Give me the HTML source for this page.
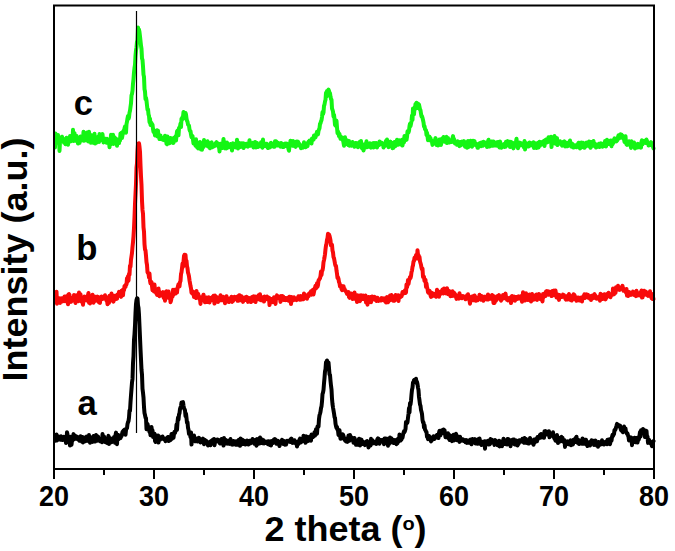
<!DOCTYPE html>
<html><head><meta charset="utf-8"><style>
html,body{margin:0;padding:0;background:#fff;}
body{width:675px;height:551px;overflow:hidden;}
svg{display:block;}
text{font-family:"Liberation Sans",sans-serif;font-weight:bold;fill:#000;}
</style></head><body>
<svg width="675" height="551" viewBox="0 0 675 551">
<rect x="0" y="0" width="675" height="551" fill="#fff"/>
<g fill="none" stroke-linejoin="round" stroke-linecap="round" stroke-width="4">
<polyline stroke="#14f514" points="55,147.4 55.5,133.6 56,142.8 56.5,139.8 57,140.0 57.5,140.6 58,135.0 58.5,140.3 59,138.3 59.5,150.9 60,141.5 60.5,139.5 61,139.5 61.5,138.1 62,136.7 62.5,138.6 63,141.1 63.5,139.0 64,142.7 64.5,139.3 65,139.9 65.5,144.3 66,141.1 66.5,137.7 67,138.5 67.5,140.6 68,144.8 68.5,138.2 69,138.3 69.5,141.8 70,136.1 70.5,137.8 71,141.2 71.5,140.2 72,138.7 72.5,140.2 73,129.8 73.5,141.0 74,135.2 74.5,133.2 75,139.1 75.5,140.6 76,137.5 76.5,135.9 77,139.3 77.5,139.3 78,143.6 78.5,141.8 79,140.3 79.5,142.9 80,138.8 80.5,136.5 81,140.6 81.5,140.4 82,138.1 82.5,136.5 83,139.6 83.5,131.8 84,140.8 84.5,140.1 85,133.8 85.5,138.5 86,135.5 86.5,140.5 87,132.6 87.5,135.8 88,140.3 88.5,141.4 89,131.8 89.5,136.4 90,138.8 90.5,136.3 91,142.8 91.5,135.3 92,139.8 92.5,135.9 93,142.7 93.5,138.5 94,137.5 94.5,133.8 95,143.5 95.5,141.1 96,141.4 96.5,142.7 97,140.6 97.5,137.7 98,137.0 98.5,136.5 99,142.1 99.5,134.0 100,136.2 100.5,137.1 101,138.8 101.5,140.0 102,135.2 102.5,134.1 103,139.0 103.5,142.5 104,141.4 104.5,140.0 105,138.7 105.5,140.6 106,139.5 106.5,142.8 107,138.7 107.5,141.4 108,140.6 108.5,142.2 109,141.2 109.5,147.2 110,144.3 110.5,144.3 111,134.8 111.5,139.5 112,139.0 112.5,142.1 113,134.7 113.5,143.9 114,143.6 114.5,137.2 115,138.0 115.5,138.4 116,140.6 116.5,142.2 117,145.8 117.5,139.7 118,141.9 118.5,139.6 119,143.1 119.5,139.6 120,140.5 120.5,133.4 121,135.0 121.5,132.7 122,138.0 122.5,135.1 123,131.9 123.5,130.8 124,132.3 124.5,128.3 125,126.6 125.5,129.0 126,132.7 126.5,124.2 127,121.7 127.5,118.3 128,116.0 128.5,118.8 129,117.4 129.5,112.7 130,110.7 130.5,106.9 131,103.4 131.5,95.4 132,93.9 132.5,90.8 133,83.6 133.5,79.1 134,72.5 134.5,67.9 135,64.9 135.5,55.7 136,50.4 136.5,47.2 137,41.8 137.5,40.2 138,27.5 138.5,33.2 139,29.5 139.5,32.2 140,36.5 140.5,41.0 141,45.6 141.5,48.9 142,58.5 142.5,59.8 143,66.3 143.5,74.6 144,76.9 144.5,89.2 145,91.5 145.5,99.1 146,97.8 146.5,100.7 147,105.4 147.5,109.8 148,109.3 148.5,114.3 149,115.9 149.5,122.2 150,118.7 150.5,124.9 151,122.4 151.5,123.1 152,124.9 152.5,124.7 153,128.9 153.5,131.9 154,130.5 154.5,132.3 155,135.5 155.5,132.9 156,133.4 156.5,132.9 157,130.2 157.5,136.4 158,130.7 158.5,136.9 159,135.7 159.5,139.1 160,136.8 160.5,135.6 161,139.1 161.5,137.4 162,138.7 162.5,139.6 163,139.4 163.5,139.6 164,138.4 164.5,140.2 165,135.7 165.5,140.6 166,138.2 166.5,143.8 167,144.2 167.5,136.5 168,141.7 168.5,141.2 169,139.3 169.5,143.3 170,141.0 170.5,137.9 171,141.5 171.5,141.6 172,142.1 172.5,138.8 173,143.0 173.5,142.9 174,137.8 174.5,138.2 175,138.6 175.5,136.3 176,140.5 176.5,135.6 177,131.4 177.5,130.7 178,131.1 178.5,135.3 179,128.1 179.5,127.3 180,126.5 180.5,123.5 181,127.1 181.5,118.7 182,120.0 182.5,117.1 183,116.9 183.5,111.9 184,118.3 184.5,113.9 185,114.6 185.5,113.0 186,114.4 186.5,118.5 187,120.8 187.5,121.7 188,124.5 188.5,125.2 189,125.7 189.5,129.6 190,131.0 190.5,131.1 191,134.6 191.5,137.2 192,136.1 192.5,136.0 193,139.7 193.5,143.6 194,139.9 194.5,141.2 195,141.9 195.5,145.7 196,139.3 196.5,144.8 197,147.1 197.5,142.9 198,148.4 198.5,146.4 199,144.0 199.5,145.8 200,141.9 200.5,144.2 201,149.6 201.5,143.6 202,149.7 202.5,145.3 203,147.5 203.5,145.3 204,140.1 204.5,143.8 205,145.5 205.5,142.5 206,142.1 206.5,145.8 207,143.6 207.5,141.3 208,143.5 208.5,146.8 209,143.8 209.5,146.9 210,148.3 210.5,145.1 211,142.7 211.5,142.4 212,145.2 212.5,147.2 213,145.8 213.5,146.5 214,144.5 214.5,146.2 215,144.6 215.5,144.9 216,142.8 216.5,142.2 217,144.6 217.5,143.2 218,143.5 218.5,146.9 219,145.1 219.5,151.4 220,147.1 220.5,143.8 221,146.9 221.5,146.1 222,144.0 222.5,147.9 223,143.9 223.5,138.9 224,147.0 224.5,143.9 225,148.4 225.5,143.9 226,142.7 226.5,148.4 227,142.6 227.5,145.1 228,147.6 228.5,144.8 229,144.5 229.5,145.2 230,147.0 230.5,143.9 231,147.0 231.5,147.0 232,150.5 232.5,144.7 233,143.3 233.5,146.7 234,144.3 234.5,145.7 235,145.3 235.5,147.4 236,143.6 236.5,144.8 237,139.8 237.5,143.3 238,148.5 238.5,144.0 239,144.1 239.5,143.2 240,147.0 240.5,146.2 241,143.3 241.5,146.8 242,145.6 242.5,146.3 243,143.2 243.5,148.1 244,145.5 244.5,144.5 245,143.8 245.5,144.2 246,146.3 246.5,143.8 247,146.3 247.5,145.2 248,146.7 248.5,145.7 249,143.9 249.5,140.2 250,144.7 250.5,145.7 251,144.5 251.5,145.3 252,143.4 252.5,143.8 253,142.8 253.5,147.6 254,145.3 254.5,143.9 255,142.0 255.5,144.2 256,147.4 256.5,145.3 257,142.9 257.5,147.1 258,147.0 258.5,145.9 259,145.5 259.5,146.2 260,145.0 260.5,145.5 261,142.3 261.5,146.8 262,144.1 262.5,147.7 263,139.6 263.5,145.2 264,146.0 264.5,143.5 265,145.3 265.5,146.0 266,145.8 266.5,143.8 267,144.8 267.5,147.3 268,148.0 268.5,145.6 269,145.5 269.5,145.7 270,147.4 270.5,143.3 271,142.9 271.5,145.9 272,143.6 272.5,144.6 273,145.9 273.5,146.6 274,143.2 274.5,146.8 275,141.3 275.5,145.7 276,141.3 276.5,141.7 277,145.6 277.5,143.5 278,142.9 278.5,143.7 279,145.5 279.5,144.4 280,144.4 280.5,146.6 281,143.1 281.5,143.7 282,143.6 282.5,147.0 283,146.5 283.5,147.0 284,144.2 284.5,143.9 285,146.0 285.5,143.6 286,146.2 286.5,146.2 287,143.6 287.5,145.1 288,145.2 288.5,149.1 289,150.8 289.5,145.4 290,145.6 290.5,140.8 291,145.6 291.5,144.8 292,142.3 292.5,145.8 293,141.0 293.5,143.8 294,144.7 294.5,142.1 295,146.4 295.5,146.8 296,141.8 296.5,141.6 297,145.5 297.5,144.0 298,141.6 298.5,143.4 299,143.9 299.5,144.0 300,146.1 300.5,145.3 301,148.2 301.5,147.5 302,146.3 302.5,147.2 303,147.7 303.5,146.4 304,142.3 304.5,146.2 305,144.4 305.5,147.2 306,143.8 306.5,144.4 307,143.8 307.5,146.2 308,142.9 308.5,141.7 309,142.5 309.5,140.6 310,141.3 310.5,140.5 311,140.6 311.5,143.5 312,138.5 312.5,139.1 313,138.3 313.5,139.7 314,135.6 314.5,136.1 315,136.8 315.5,137.3 316,135.3 316.5,133.5 317,131.9 317.5,133.6 318,134.3 318.5,130.9 319,129.3 319.5,128.3 320,123.9 320.5,123.3 321,121.3 321.5,120.2 322,117.0 322.5,112.1 323,114.1 323.5,112.5 324,105.9 324.5,104.5 325,101.5 325.5,99.8 326,92.8 326.5,96.8 327,90.9 327.5,93.2 328,90.3 328.5,89.6 329,91.0 329.5,94.7 330,93.2 330.5,96.7 331,99.2 331.5,99.6 332,108.5 332.5,109.9 333,111.5 333.5,116.5 334,114.8 334.5,118.9 335,124.8 335.5,125.5 336,121.1 336.5,120.9 337,127.3 337.5,133.1 338,131.5 338.5,133.3 339,136.1 339.5,134.0 340,137.0 340.5,138.8 341,138.6 341.5,138.9 342,137.3 342.5,140.0 343,138.7 343.5,142.7 344,145.8 344.5,139.7 345,137.2 345.5,141.0 346,142.7 346.5,144.1 347,144.2 347.5,140.6 348,140.8 348.5,145.3 349,141.0 349.5,145.8 350,143.5 350.5,145.6 351,145.6 351.5,145.7 352,145.6 352.5,141.9 353,144.4 353.5,143.9 354,144.6 354.5,146.7 355,143.9 355.5,143.1 356,143.1 356.5,144.0 357,146.2 357.5,143.2 358,147.2 358.5,145.5 359,144.4 359.5,142.1 360,145.1 360.5,145.9 361,141.0 361.5,147.1 362,148.2 362.5,145.8 363,146.4 363.5,150.5 364,148.4 364.5,144.3 365,146.2 365.5,145.9 366,145.9 366.5,141.3 367,147.3 367.5,144.2 368,145.6 368.5,144.9 369,146.8 369.5,144.5 370,143.4 370.5,146.0 371,147.7 371.5,144.1 372,147.3 372.5,144.9 373,143.3 373.5,147.5 374,143.1 374.5,147.0 375,144.2 375.5,146.3 376,143.0 376.5,143.8 377,147.5 377.5,145.6 378,145.0 378.5,143.7 379,145.2 379.5,141.4 380,141.9 380.5,143.8 381,142.5 381.5,142.8 382,144.1 382.5,144.0 383,143.8 383.5,147.5 384,146.0 384.5,146.3 385,143.7 385.5,142.7 386,140.8 386.5,143.0 387,139.6 387.5,142.7 388,145.5 388.5,147.2 389,145.9 389.5,142.0 390,144.4 390.5,141.6 391,144.6 391.5,142.8 392,144.8 392.5,148.2 393,145.0 393.5,147.7 394,143.3 394.5,142.2 395,145.4 395.5,146.0 396,141.4 396.5,142.7 397,139.8 397.5,142.4 398,144.8 398.5,143.1 399,142.1 399.5,140.4 400,143.7 400.5,144.4 401,143.8 401.5,142.9 402,139.7 402.5,145.5 403,141.6 403.5,141.1 404,142.3 404.5,136.0 405,139.5 405.5,138.6 406,138.8 406.5,139.8 407,137.0 407.5,131.3 408,132.9 408.5,132.5 409,130.8 409.5,126.2 410,123.7 410.5,126.2 411,123.8 411.5,121.0 412,115.4 412.5,120.0 413,108.4 413.5,111.3 414,114.3 414.5,108.2 415,107.7 415.5,104.0 416,108.4 416.5,102.8 417,105.8 417.5,105.7 418,103.8 418.5,108.3 419,104.6 419.5,107.0 420,109.5 420.5,110.2 421,113.7 421.5,116.5 422,116.2 422.5,117.9 423,120.0 423.5,122.3 424,126.5 424.5,126.2 425,129.2 425.5,129.9 426,130.1 426.5,135.0 427,132.7 427.5,136.1 428,140.2 428.5,136.2 429,139.1 429.5,136.8 430,139.6 430.5,138.1 431,140.8 431.5,140.6 432,142.1 432.5,144.9 433,142.3 433.5,143.1 434,141.6 434.5,141.2 435,140.1 435.5,138.1 436,141.9 436.5,145.0 437,142.9 437.5,141.0 438,145.4 438.5,141.3 439,140.9 439.5,139.5 440,139.7 440.5,140.8 441,144.9 441.5,140.3 442,138.5 442.5,139.3 443,140.0 443.5,137.0 444,140.6 444.5,141.7 445,140.9 445.5,141.4 446,137.6 446.5,136.9 447,143.0 447.5,142.9 448,138.0 448.5,141.6 449,141.3 449.5,142.4 450,141.8 450.5,140.5 451,142.0 451.5,142.0 452,141.7 452.5,138.3 453,136.1 453.5,140.5 454,138.9 454.5,142.6 455,143.5 455.5,142.7 456,141.5 456.5,142.5 457,144.8 457.5,141.2 458,144.6 458.5,144.4 459,143.6 459.5,146.1 460,142.0 460.5,145.5 461,141.9 461.5,142.3 462,141.7 462.5,144.6 463,141.7 463.5,143.6 464,141.1 464.5,145.2 465,146.6 465.5,143.4 466,146.3 466.5,144.4 467,147.8 467.5,144.0 468,140.9 468.5,147.0 469,143.9 469.5,142.1 470,142.8 470.5,140.8 471,143.6 471.5,141.7 472,146.7 472.5,145.1 473,140.7 473.5,141.3 474,143.4 474.5,141.1 475,144.8 475.5,145.1 476,143.6 476.5,144.0 477,146.0 477.5,147.7 478,147.8 478.5,144.8 479,146.4 479.5,143.2 480,145.4 480.5,142.8 481,146.2 481.5,142.4 482,142.9 482.5,144.7 483,145.7 483.5,141.7 484,143.3 484.5,144.5 485,144.7 485.5,142.6 486,144.4 486.5,143.7 487,147.0 487.5,145.3 488,141.6 488.5,139.8 489,144.3 489.5,146.5 490,144.5 490.5,145.9 491,143.2 491.5,141.5 492,145.7 492.5,144.5 493,145.6 493.5,141.5 494,144.6 494.5,142.9 495,145.6 495.5,142.7 496,142.5 496.5,142.3 497,145.8 497.5,143.4 498,142.1 498.5,141.9 499,142.3 499.5,147.6 500,141.5 500.5,143.7 501,146.7 501.5,147.7 502,145.0 502.5,146.5 503,146.1 503.5,146.2 504,144.0 504.5,147.0 505,144.1 505.5,146.7 506,141.7 506.5,145.8 507,141.6 507.5,141.1 508,145.0 508.5,142.3 509,144.7 509.5,141.8 510,147.1 510.5,144.0 511,141.9 511.5,144.5 512,145.9 512.5,142.7 513,145.3 513.5,148.4 514,146.2 514.5,144.6 515,143.6 515.5,145.9 516,141.8 516.5,138.8 517,143.5 517.5,142.7 518,148.3 518.5,145.2 519,143.0 519.5,142.6 520,145.6 520.5,142.9 521,143.2 521.5,144.1 522,144.3 522.5,144.3 523,144.3 523.5,146.6 524,147.5 524.5,141.1 525,149.5 525.5,144.8 526,147.1 526.5,143.3 527,145.5 527.5,145.3 528,145.1 528.5,146.5 529,145.9 529.5,142.6 530,144.1 530.5,145.5 531,145.2 531.5,143.2 532,143.4 532.5,143.9 533,142.4 533.5,142.3 534,148.0 534.5,144.2 535,145.0 535.5,143.3 536,147.2 536.5,148.0 537,144.0 537.5,145.4 538,142.7 538.5,147.4 539,145.4 539.5,141.7 540,145.7 540.5,143.9 541,144.0 541.5,144.0 542,142.1 542.5,142.3 543,144.4 543.5,142.8 544,140.7 544.5,146.1 545,141.3 545.5,140.2 546,139.5 546.5,141.9 547,142.3 547.5,140.8 548,141.9 548.5,137.3 549,139.5 549.5,139.3 550,140.4 550.5,141.5 551,136.8 551.5,147.1 552,139.5 552.5,142.0 553,143.0 553.5,143.2 554,142.1 554.5,136.1 555,139.9 555.5,143.7 556,140.7 556.5,140.5 557,138.1 557.5,145.1 558,143.8 558.5,141.2 559,142.8 559.5,143.1 560,141.3 560.5,143.0 561,144.0 561.5,144.4 562,145.6 562.5,143.1 563,142.2 563.5,144.0 564,142.3 564.5,141.4 565,146.4 565.5,143.7 566,145.0 566.5,146.2 567,142.8 567.5,146.2 568,145.8 568.5,144.7 569,145.6 569.5,143.3 570,140.5 570.5,144.3 571,143.2 571.5,146.7 572,145.5 572.5,143.9 573,144.9 573.5,147.5 574,147.2 574.5,146.0 575,146.4 575.5,145.3 576,145.8 576.5,147.3 577,145.9 577.5,146.7 578,143.9 578.5,142.8 579,142.7 579.5,145.1 580,148.4 580.5,148.1 581,143.7 581.5,142.5 582,147.0 582.5,146.4 583,142.7 583.5,147.4 584,145.6 584.5,147.8 585,145.8 585.5,146.7 586,145.3 586.5,142.6 587,143.8 587.5,142.8 588,145.7 588.5,142.3 589,141.5 589.5,145.9 590,147.0 590.5,147.6 591,147.0 591.5,142.1 592,143.7 592.5,144.1 593,145.2 593.5,141.1 594,145.4 594.5,146.0 595,143.6 595.5,145.6 596,147.5 596.5,145.1 597,146.9 597.5,146.7 598,145.4 598.5,145.2 599,143.7 599.5,146.9 600,143.7 600.5,143.4 601,146.3 601.5,143.5 602,145.7 602.5,146.7 603,144.6 603.5,144.5 604,146.0 604.5,145.6 605,141.1 605.5,141.5 606,146.5 606.5,144.6 607,139.7 607.5,141.0 608,143.5 608.5,141.3 609,144.0 609.5,143.0 610,143.7 610.5,140.5 611,143.8 611.5,146.2 612,140.6 612.5,144.3 613,143.4 613.5,142.5 614,140.8 614.5,138.4 615,138.6 615.5,141.4 616,141.3 616.5,141.4 617,140.5 617.5,140.0 618,137.0 618.5,135.2 619,137.7 619.5,138.1 620,137.3 620.5,134.2 621,136.3 621.5,134.6 622,137.8 622.5,135.7 623,137.6 623.5,138.9 624,138.9 624.5,141.9 625,137.7 625.5,136.2 626,142.9 626.5,144.3 627,144.8 627.5,143.0 628,143.9 628.5,143.5 629,141.2 629.5,142.9 630,145.2 630.5,143.1 631,147.9 631.5,141.3 632,143.5 632.5,146.6 633,143.5 633.5,142.7 634,142.5 634.5,144.0 635,148.6 635.5,146.6 636,146.9 636.5,144.9 637,147.5 637.5,146.0 638,143.9 638.5,144.6 639,145.7 639.5,147.3 640,144.6 640.5,145.3 641,147.6 641.5,141.6 642,140.3 642.5,144.2 643,142.9 643.5,141.7 644,142.2 644.5,140.8 645,142.3 645.5,140.6 646,143.0 646.5,139.6 647,140.9 647.5,143.3 648,142.8 648.5,145.5 649,144.4 649.5,143.5 650,145.1 650.5,143.9 651,142.1 651.5,143.3 652,144.4 652.5,145.4 653,146.7 653.5,148.4"/>
<polyline stroke="#f80a0a" points="55,299.6 55.5,297.3 56,297.5 56.5,291.7 57,303.7 57.5,302.0 58,298.1 58.5,301.5 59,300.4 59.5,298.4 60,302.9 60.5,299.5 61,299.6 61.5,298.3 62,301.6 62.5,299.8 63,301.2 63.5,297.7 64,299.4 64.5,296.5 65,301.2 65.5,299.4 66,299.7 66.5,299.8 67,295.9 67.5,300.8 68,304.3 68.5,294.3 69,294.1 69.5,294.8 70,301.2 70.5,299.3 71,301.9 71.5,300.9 72,299.4 72.5,299.4 73,297.9 73.5,300.4 74,294.9 74.5,296.8 75,298.7 75.5,303.0 76,296.2 76.5,295.3 77,296.6 77.5,300.5 78,297.1 78.5,301.2 79,292.6 79.5,300.7 80,300.6 80.5,294.3 81,298.6 81.5,301.6 82,298.7 82.5,301.1 83,304.7 83.5,299.2 84,297.7 84.5,296.5 85,300.3 85.5,298.2 86,298.3 86.5,298.5 87,300.5 87.5,296.2 88,295.2 88.5,293.0 89,302.7 89.5,299.8 90,303.5 90.5,299.3 91,297.1 91.5,299.8 92,298.0 92.5,294.8 93,295.7 93.5,302.7 94,299.3 94.5,299.6 95,297.9 95.5,296.9 96,300.8 96.5,298.3 97,296.7 97.5,298.5 98,296.9 98.5,299.9 99,302.4 99.5,297.4 100,302.9 100.5,297.4 101,299.2 101.5,296.5 102,298.1 102.5,299.0 103,298.1 103.5,297.6 104,297.8 104.5,297.3 105,295.3 105.5,298.3 106,299.7 106.5,300.7 107,299.9 107.5,304.3 108,298.9 108.5,297.1 109,302.9 109.5,295.7 110,300.7 110.5,296.0 111,299.3 111.5,293.6 112,300.5 112.5,297.7 113,295.5 113.5,301.7 114,299.4 114.5,297.7 115,295.8 115.5,297.5 116,297.0 116.5,298.9 117,298.7 117.5,294.6 118,294.4 118.5,294.1 119,291.9 119.5,293.6 120,294.6 120.5,296.0 121,296.8 121.5,290.8 122,293.2 122.5,290.0 123,295.3 123.5,289.6 124,290.3 124.5,286.2 125,285.7 125.5,287.0 126,284.3 126.5,284.4 127,278.2 127.5,281.8 128,276.3 128.5,280.7 129,273.8 129.5,274.6 130,265.7 130.5,266.6 131,259.6 131.5,256.4 132,252.9 132.5,246.9 133,242.2 133.5,236.3 134,228.0 134.5,217.1 135,204.0 135.5,194.2 136,184.0 136.5,167.7 137,163.1 137.5,151.1 138,144.1 138.5,143.4 139,143.3 139.5,146.9 140,151.9 140.5,165.1 141,176.5 141.5,185.2 142,200.8 142.5,209.9 143,213.7 143.5,227.2 144,231.7 144.5,244.1 145,249.5 145.5,250.5 146,255.7 146.5,262.1 147,264.9 147.5,272.1 148,273.1 148.5,273.3 149,277.5 149.5,273.6 150,280.6 150.5,283.3 151,282.1 151.5,282.1 152,286.1 152.5,290.2 153,287.1 153.5,284.9 154,291.4 154.5,284.6 155,290.7 155.5,288.9 156,293.0 156.5,289.6 157,294.9 157.5,293.0 158,288.8 158.5,288.6 159,292.5 159.5,296.2 160,293.6 160.5,293.5 161,292.8 161.5,295.1 162,294.5 162.5,294.6 163,292.1 163.5,297.3 164,298.1 164.5,292.5 165,300.7 165.5,297.3 166,294.6 166.5,291.3 167,296.8 167.5,296.5 168,294.0 168.5,291.5 169,298.0 169.5,294.4 170,294.8 170.5,302.2 171,300.6 171.5,297.8 172,294.5 172.5,296.5 173,289.8 173.5,294.7 174,292.5 174.5,290.9 175,289.7 175.5,293.6 176,292.0 176.5,291.5 177,292.4 177.5,288.1 178,286.4 178.5,284.2 179,285.8 179.5,286.3 180,282.1 180.5,281.0 181,274.1 181.5,272.3 182,268.2 182.5,263.6 183,266.8 183.5,261.6 184,255.9 184.5,254.7 185,256.4 185.5,254.9 186,261.3 186.5,260.8 187,266.2 187.5,268.3 188,272.7 188.5,274.1 189,276.4 189.5,280.3 190,283.2 190.5,286.0 191,288.4 191.5,292.9 192,292.5 192.5,291.3 193,294.2 193.5,291.9 194,297.1 194.5,295.9 195,292.5 195.5,297.4 196,298.0 196.5,291.1 197,295.5 197.5,296.4 198,293.6 198.5,295.6 199,296.1 199.5,299.3 200,299.0 200.5,303.9 201,297.7 201.5,300.9 202,298.7 202.5,299.1 203,296.2 203.5,294.7 204,297.1 204.5,300.4 205,302.2 205.5,300.4 206,300.2 206.5,297.4 207,302.1 207.5,301.7 208,298.0 208.5,299.1 209,297.4 209.5,302.5 210,300.4 210.5,299.3 211,300.2 211.5,300.2 212,298.5 212.5,296.9 213,296.9 213.5,295.9 214,300.3 214.5,303.6 215,295.6 215.5,299.1 216,299.7 216.5,297.0 217,299.7 217.5,297.4 218,302.1 218.5,298.4 219,299.6 219.5,300.5 220,298.0 220.5,295.3 221,297.7 221.5,300.3 222,298.7 222.5,299.3 223,296.8 223.5,299.3 224,300.6 224.5,299.4 225,303.2 225.5,299.1 226,297.5 226.5,296.2 227,301.5 227.5,298.9 228,300.8 228.5,299.7 229,302.0 229.5,301.4 230,298.3 230.5,299.6 231,301.2 231.5,296.7 232,301.9 232.5,301.4 233,301.0 233.5,298.7 234,299.6 234.5,296.7 235,298.7 235.5,297.3 236,298.4 236.5,297.3 237,298.9 237.5,300.8 238,296.3 238.5,300.8 239,295.4 239.5,295.2 240,299.1 240.5,299.3 241,300.1 241.5,296.2 242,299.3 242.5,299.7 243,301.9 243.5,299.4 244,300.5 244.5,297.5 245,298.7 245.5,298.0 246,300.0 246.5,296.8 247,297.0 247.5,299.6 248,301.9 248.5,299.3 249,299.2 249.5,298.0 250,300.7 250.5,299.8 251,302.0 251.5,299.4 252,297.0 252.5,297.6 253,296.7 253.5,296.3 254,301.0 254.5,300.2 255,296.5 255.5,302.1 256,299.3 256.5,297.0 257,299.4 257.5,298.6 258,297.3 258.5,295.2 259,298.9 259.5,299.5 260,294.2 260.5,300.1 261,300.2 261.5,298.2 262,299.2 262.5,298.5 263,297.4 263.5,298.4 264,301.6 264.5,296.5 265,299.6 265.5,299.5 266,297.8 266.5,298.3 267,296.5 267.5,297.5 268,299.1 268.5,299.8 269,297.6 269.5,305.0 270,298.5 270.5,300.0 271,299.4 271.5,299.1 272,302.2 272.5,298.8 273,302.0 273.5,301.4 274,297.2 274.5,300.9 275,297.7 275.5,303.9 276,298.1 276.5,297.1 277,295.4 277.5,296.6 278,297.9 278.5,297.2 279,296.8 279.5,297.9 280,298.8 280.5,301.9 281,296.1 281.5,298.1 282,297.2 282.5,296.1 283,296.4 283.5,297.0 284,300.1 284.5,298.5 285,297.9 285.5,300.1 286,299.5 286.5,298.7 287,299.9 287.5,297.7 288,300.5 288.5,300.1 289,298.4 289.5,296.7 290,301.5 290.5,298.7 291,304.0 291.5,297.1 292,299.9 292.5,297.6 293,299.0 293.5,300.1 294,297.2 294.5,298.5 295,298.9 295.5,298.7 296,299.4 296.5,300.1 297,299.6 297.5,298.5 298,297.5 298.5,296.2 299,297.1 299.5,297.5 300,299.7 300.5,297.8 301,296.1 301.5,299.6 302,297.0 302.5,297.1 303,298.0 303.5,299.1 304,293.5 304.5,295.5 305,297.7 305.5,296.5 306,295.3 306.5,295.7 307,298.8 307.5,295.0 308,296.7 308.5,296.3 309,293.5 309.5,294.8 310,292.8 310.5,292.4 311,291.3 311.5,294.8 312,292.2 312.5,291.4 313,289.7 313.5,294.4 314,291.8 314.5,289.5 315,287.9 315.5,285.7 316,288.3 316.5,287.4 317,283.2 317.5,286.8 318,284.9 318.5,280.5 319,279.9 319.5,278.8 320,278.3 320.5,276.0 321,271.4 321.5,275.1 322,270.8 322.5,270.3 323,267.7 323.5,262.2 324,260.1 324.5,257.5 325,254.2 325.5,249.2 326,245.4 326.5,243.7 327,239.7 327.5,238.0 328,233.7 328.5,236.6 329,234.4 329.5,235.8 330,237.9 330.5,240.4 331,245.6 331.5,245.1 332,244.9 332.5,250.6 333,252.3 333.5,257.1 334,258.1 334.5,260.8 335,263.7 335.5,265.9 336,266.0 336.5,270.4 337,273.8 337.5,278.1 338,277.3 338.5,278.9 339,282.1 339.5,283.3 340,286.4 340.5,285.6 341,285.5 341.5,288.9 342,290.1 342.5,287.2 343,289.0 343.5,286.2 344,289.2 344.5,288.8 345,290.5 345.5,290.6 346,291.8 346.5,292.4 347,294.0 347.5,293.9 348,292.9 348.5,292.0 349,297.0 349.5,297.8 350,294.7 350.5,297.0 351,293.5 351.5,293.6 352,296.0 352.5,299.0 353,294.2 353.5,294.4 354,298.8 354.5,292.4 355,297.3 355.5,297.3 356,296.4 356.5,297.3 357,302.0 357.5,295.3 358,296.9 358.5,297.2 359,296.6 359.5,295.7 360,301.2 360.5,298.9 361,295.3 361.5,297.1 362,299.0 362.5,299.0 363,295.6 363.5,298.2 364,299.0 364.5,299.3 365,299.4 365.5,295.5 366,302.3 366.5,299.5 367,302.6 367.5,304.6 368,299.0 368.5,297.0 369,300.7 369.5,298.7 370,298.2 370.5,297.2 371,302.2 371.5,298.3 372,296.5 372.5,298.2 373,296.9 373.5,299.3 374,298.2 374.5,296.9 375,299.8 375.5,297.5 376,299.9 376.5,300.9 377,298.1 377.5,297.8 378,299.5 378.5,300.9 379,299.3 379.5,299.6 380,299.3 380.5,299.9 381,300.5 381.5,298.1 382,298.6 382.5,299.6 383,298.4 383.5,299.8 384,300.5 384.5,299.5 385,298.4 385.5,298.0 386,302.6 386.5,300.9 387,297.1 387.5,297.4 388,302.2 388.5,301.4 389,298.7 389.5,300.5 390,295.6 390.5,298.3 391,299.7 391.5,295.1 392,297.2 392.5,300.1 393,300.6 393.5,297.3 394,298.7 394.5,300.8 395,297.0 395.5,295.0 396,297.2 396.5,296.5 397,299.5 397.5,297.2 398,295.3 398.5,301.0 399,295.5 399.5,297.1 400,297.2 400.5,297.2 401,295.8 401.5,296.3 402,294.8 402.5,292.0 403,293.8 403.5,293.3 404,292.7 404.5,292.5 405,290.3 405.5,293.0 406,292.4 406.5,284.5 407,287.3 407.5,284.7 408,279.9 408.5,284.0 409,280.6 409.5,279.3 410,277.0 410.5,278.1 411,276.1 411.5,272.1 412,270.6 412.5,266.9 413,265.3 413.5,261.6 414,261.0 414.5,257.7 415,257.9 415.5,257.2 416,255.1 416.5,256.0 417,258.6 417.5,250.2 418,254.9 418.5,255.1 419,256.8 419.5,256.9 420,261.5 420.5,263.1 421,264.8 421.5,267.8 422,269.5 422.5,268.5 423,276.8 423.5,276.2 424,276.9 424.5,281.0 425,280.9 425.5,279.8 426,286.8 426.5,283.5 427,287.3 427.5,288.9 428,292.1 428.5,292.7 429,291.7 429.5,290.8 430,292.1 430.5,295.3 431,296.9 431.5,294.9 432,292.9 432.5,296.0 433,293.5 433.5,293.6 434,293.9 434.5,295.6 435,295.1 435.5,296.3 436,296.7 436.5,295.2 437,289.8 437.5,290.8 438,293.8 438.5,293.0 439,296.7 439.5,292.3 440,291.8 440.5,293.5 441,293.6 441.5,291.2 442,292.4 442.5,289.4 443,289.6 443.5,293.4 444,288.6 444.5,292.8 445,292.5 445.5,292.9 446,293.4 446.5,293.0 447,288.3 447.5,290.5 448,291.4 448.5,294.3 449,290.9 449.5,291.9 450,292.9 450.5,296.3 451,291.7 451.5,292.2 452,296.0 452.5,291.2 453,295.7 453.5,294.4 454,292.6 454.5,294.9 455,294.0 455.5,296.3 456,296.7 456.5,298.9 457,296.3 457.5,296.6 458,295.5 458.5,296.6 459,298.6 459.5,293.3 460,297.9 460.5,295.7 461,296.7 461.5,297.2 462,298.2 462.5,297.1 463,296.0 463.5,297.4 464,297.1 464.5,296.9 465,297.9 465.5,299.3 466,298.0 466.5,297.9 467,295.3 467.5,297.4 468,294.3 468.5,299.1 469,296.3 469.5,300.5 470,303.7 470.5,297.6 471,300.7 471.5,298.9 472,297.0 472.5,296.4 473,298.8 473.5,300.3 474,298.6 474.5,295.4 475,296.3 475.5,297.9 476,300.8 476.5,298.8 477,298.8 477.5,300.3 478,297.7 478.5,297.9 479,297.7 479.5,294.8 480,298.8 480.5,298.7 481,299.7 481.5,295.9 482,296.6 482.5,299.9 483,298.8 483.5,300.8 484,296.7 484.5,298.5 485,296.8 485.5,298.4 486,296.9 486.5,298.6 487,299.5 487.5,298.8 488,294.4 488.5,299.4 489,298.7 489.5,296.0 490,296.3 490.5,297.8 491,298.7 491.5,297.0 492,295.0 492.5,298.7 493,298.7 493.5,302.9 494,296.2 494.5,302.9 495,301.3 495.5,298.5 496,300.7 496.5,297.7 497,299.2 497.5,296.1 498,297.7 498.5,295.9 499,295.2 499.5,297.7 500,297.2 500.5,299.4 501,300.6 501.5,298.0 502,298.4 502.5,298.6 503,295.1 503.5,298.5 504,297.8 504.5,297.5 505,295.4 505.5,293.6 506,296.7 506.5,297.8 507,299.8 507.5,299.6 508,300.4 508.5,298.6 509,300.2 509.5,297.8 510,299.4 510.5,300.0 511,303.1 511.5,298.7 512,295.9 512.5,300.6 513,296.8 513.5,298.1 514,297.8 514.5,296.7 515,300.7 515.5,299.3 516,297.0 516.5,298.1 517,297.1 517.5,298.9 518,297.1 518.5,296.4 519,296.7 519.5,297.1 520,298.5 520.5,296.3 521,297.7 521.5,298.5 522,301.8 522.5,299.1 523,292.3 523.5,296.8 524,297.1 524.5,298.3 525,300.5 525.5,298.8 526,293.2 526.5,297.9 527,297.6 527.5,298.2 528,300.0 528.5,295.6 529,299.5 529.5,294.6 530,297.6 530.5,298.1 531,301.5 531.5,295.9 532,294.0 532.5,298.2 533,295.7 533.5,299.7 534,295.7 534.5,295.5 535,299.3 535.5,297.2 536,298.8 536.5,294.4 537,299.9 537.5,295.8 538,298.3 538.5,295.1 539,294.0 539.5,296.2 540,296.8 540.5,299.2 541,296.8 541.5,297.4 542,297.2 542.5,301.4 543,294.1 543.5,297.4 544,294.5 544.5,294.9 545,293.2 545.5,296.0 546,291.5 546.5,291.2 547,293.1 547.5,291.2 548,294.4 548.5,294.7 549,291.6 549.5,294.4 550,291.8 550.5,292.9 551,292.9 551.5,296.1 552,292.6 552.5,291.0 553,291.1 553.5,295.2 554,290.5 554.5,293.1 555,293.8 555.5,290.5 556,294.5 556.5,297.4 557,296.3 557.5,294.5 558,297.5 558.5,297.3 559,299.9 559.5,294.9 560,295.6 560.5,296.4 561,296.3 561.5,296.9 562,296.9 562.5,296.1 563,294.6 563.5,296.6 564,295.2 564.5,296.0 565,297.0 565.5,299.0 566,299.7 566.5,296.3 567,298.7 567.5,299.5 568,297.9 568.5,295.0 569,294.1 569.5,299.4 570,299.7 570.5,298.6 571,296.2 571.5,300.6 572,300.0 572.5,297.7 573,297.3 573.5,294.2 574,299.1 574.5,295.0 575,299.2 575.5,299.3 576,298.1 576.5,300.8 577,297.4 577.5,299.1 578,299.6 578.5,298.7 579,297.7 579.5,300.6 580,299.1 580.5,297.8 581,297.6 581.5,297.9 582,301.6 582.5,297.8 583,297.2 583.5,295.9 584,295.6 584.5,294.3 585,298.0 585.5,297.4 586,295.3 586.5,294.4 587,296.5 587.5,296.2 588,294.8 588.5,297.8 589,297.5 589.5,297.2 590,298.8 590.5,296.3 591,299.9 591.5,295.7 592,298.4 592.5,298.5 593,296.8 593.5,297.7 594,294.7 594.5,294.2 595,296.6 595.5,295.8 596,298.4 596.5,297.5 597,298.7 597.5,298.1 598,297.8 598.5,297.6 599,296.6 599.5,296.4 600,300.7 600.5,293.8 601,296.4 601.5,298.4 602,297.2 602.5,299.0 603,297.5 603.5,294.4 604,296.2 604.5,294.3 605,298.6 605.5,299.4 606,296.0 606.5,297.7 607,295.8 607.5,293.7 608,295.1 608.5,292.8 609,294.4 609.5,295.6 610,296.4 610.5,297.2 611,294.0 611.5,294.8 612,294.9 612.5,294.8 613,288.4 613.5,291.8 614,294.2 614.5,290.3 615,292.3 615.5,292.7 616,287.2 616.5,289.5 617,289.6 617.5,288.8 618,285.8 618.5,289.0 619,287.4 619.5,289.9 620,289.3 620.5,287.5 621,288.8 621.5,287.2 622,287.2 622.5,285.8 623,288.5 623.5,290.7 624,289.8 624.5,290.1 625,289.5 625.5,290.1 626,292.7 626.5,289.0 627,295.5 627.5,291.9 628,296.1 628.5,294.5 629,292.0 629.5,294.3 630,293.7 630.5,294.2 631,294.9 631.5,292.6 632,292.6 632.5,293.1 633,291.6 633.5,293.8 634,295.0 634.5,295.2 635,295.2 635.5,294.1 636,296.1 636.5,290.8 637,293.6 637.5,293.5 638,295.4 638.5,294.9 639,295.1 639.5,293.7 640,295.5 640.5,292.2 641,294.3 641.5,290.6 642,297.5 642.5,297.4 643,293.5 643.5,293.1 644,290.8 644.5,291.7 645,294.7 645.5,294.2 646,291.8 646.5,293.5 647,293.2 647.5,295.3 648,295.8 648.5,294.2 649,294.9 649.5,294.8 650,291.3 650.5,296.0 651,296.1 651.5,298.1 652,294.0 652.5,299.0 653,297.0 653.5,299.1"/>
<polyline stroke="#000" points="55,439.3 55.5,440.6 56,439.1 56.5,434.4 57,440.4 57.5,439.0 58,436.3 58.5,439.6 59,439.1 59.5,438.9 60,438.2 60.5,439.7 61,436.2 61.5,437.8 62,437.0 62.5,440.1 63,438.7 63.5,438.0 64,436.8 64.5,438.4 65,439.2 65.5,438.5 66,442.9 66.5,442.3 67,432.2 67.5,434.4 68,439.0 68.5,438.3 69,440.1 69.5,440.3 70,445.6 70.5,436.8 71,438.6 71.5,444.8 72,440.6 72.5,440.4 73,437.1 73.5,434.1 74,439.2 74.5,439.1 75,435.6 75.5,437.0 76,438.7 76.5,436.4 77,438.7 77.5,439.2 78,439.0 78.5,437.4 79,440.1 79.5,440.7 80,439.1 80.5,436.2 81,440.6 81.5,437.7 82,441.7 82.5,436.9 83,442.5 83.5,440.3 84,437.4 84.5,440.0 85,440.9 85.5,441.2 86,437.5 86.5,436.7 87,439.8 87.5,437.9 88,439.8 88.5,441.2 89,435.1 89.5,440.1 90,442.7 90.5,438.8 91,437.4 91.5,441.5 92,440.2 92.5,441.9 93,438.8 93.5,435.9 94,439.4 94.5,438.6 95,441.6 95.5,440.0 96,435.0 96.5,435.8 97,440.8 97.5,440.0 98,436.6 98.5,438.4 99,439.8 99.5,440.1 100,441.3 100.5,439.9 101,439.2 101.5,438.9 102,442.3 102.5,434.0 103,439.4 103.5,440.0 104,436.4 104.5,441.0 105,438.6 105.5,442.3 106,439.7 106.5,441.6 107,442.9 107.5,440.7 108,437.6 108.5,435.9 109,444.0 109.5,439.3 110,438.0 110.5,440.2 111,439.6 111.5,442.3 112,440.3 112.5,440.2 113,438.3 113.5,441.0 114,437.1 114.5,441.0 115,442.8 115.5,435.1 116,432.6 116.5,439.8 117,444.2 117.5,435.4 118,434.8 118.5,439.2 119,435.7 119.5,436.4 120,436.5 120.5,438.2 121,435.3 121.5,436.2 122,434.2 122.5,431.9 123,432.5 123.5,430.6 124,432.7 124.5,429.7 125,429.4 125.5,434.7 126,430.1 126.5,428.6 127,428.3 127.5,424.1 128,422.2 128.5,421.1 129,417.6 129.5,410.5 130,410.8 130.5,402.4 131,395.4 131.5,389.0 132,382.6 132.5,378.9 133,363.1 133.5,356.1 134,340.0 134.5,334.1 135,325.6 135.5,313.1 136,303.9 136.5,300.0 137,298.2 137.5,298.5 138,305.3 138.5,307.9 139,315.0 139.5,326.4 140,337.6 140.5,349.0 141,359.3 141.5,369.8 142,374.7 142.5,388.7 143,392.7 143.5,397.5 144,407.0 144.5,413.0 145,415.0 145.5,417.6 146,418.0 146.5,429.2 147,426.8 147.5,424.0 148,426.4 148.5,429.8 149,427.2 149.5,432.0 150,431.1 150.5,435.3 151,435.0 151.5,427.0 152,433.6 152.5,430.3 153,436.9 153.5,435.4 154,436.8 154.5,433.8 155,440.9 155.5,441.9 156,435.3 156.5,438.8 157,436.6 157.5,438.1 158,435.4 158.5,442.5 159,436.3 159.5,438.0 160,439.9 160.5,437.4 161,438.4 161.5,437.6 162,438.6 162.5,436.5 163,438.2 163.5,438.9 164,438.7 164.5,439.7 165,438.9 165.5,441.2 166,438.7 166.5,439.1 167,437.9 167.5,438.4 168,437.0 168.5,441.1 169,437.5 169.5,438.3 170,440.4 170.5,440.1 171,437.9 171.5,434.0 172,438.8 172.5,438.0 173,433.8 173.5,437.8 174,433.7 174.5,431.7 175,433.1 175.5,431.1 176,430.3 176.5,424.6 177,429.9 177.5,422.3 178,417.6 178.5,419.5 179,414.5 179.5,413.2 180,409.1 180.5,407.4 181,406.1 181.5,402.5 182,404.7 182.5,402.2 183,402.1 183.5,405.5 184,408.3 184.5,409.2 185,410.3 185.5,416.1 186,413.7 186.5,417.9 187,422.7 187.5,422.3 188,427.7 188.5,429.8 189,433.9 189.5,431.9 190,434.1 190.5,437.3 191,432.4 191.5,444.6 192,437.0 192.5,437.1 193,440.6 193.5,438.9 194,435.4 194.5,440.6 195,441.2 195.5,438.7 196,439.3 196.5,441.2 197,438.5 197.5,441.5 198,441.2 198.5,439.4 199,437.9 199.5,440.2 200,438.8 200.5,442.5 201,440.6 201.5,441.9 202,440.5 202.5,440.7 203,438.6 203.5,441.7 204,444.2 204.5,440.2 205,440.1 205.5,441.4 206,441.2 206.5,441.1 207,443.1 207.5,442.2 208,445.5 208.5,442.4 209,442.9 209.5,444.2 210,441.7 210.5,445.3 211,441.1 211.5,440.7 212,441.5 212.5,442.0 213,439.4 213.5,442.2 214,439.0 214.5,445.2 215,442.3 215.5,441.1 216,440.4 216.5,441.2 217,441.3 217.5,439.5 218,439.6 218.5,441.0 219,440.2 219.5,443.0 220,443.4 220.5,441.3 221,442.3 221.5,439.0 222,443.2 222.5,442.1 223,443.3 223.5,445.5 224,438.0 224.5,442.9 225,440.3 225.5,443.6 226,439.9 226.5,441.5 227,442.8 227.5,443.6 228,442.5 228.5,440.7 229,441.2 229.5,443.9 230,442.3 230.5,439.1 231,444.1 231.5,443.5 232,444.5 232.5,442.3 233,444.6 233.5,441.0 234,444.1 234.5,442.0 235,444.2 235.5,444.7 236,441.3 236.5,442.5 237,442.6 237.5,444.7 238,443.8 238.5,440.0 239,443.0 239.5,443.3 240,445.8 240.5,438.5 241,440.7 241.5,444.4 242,439.5 242.5,439.9 243,443.1 243.5,444.0 244,440.7 244.5,442.8 245,441.9 245.5,444.6 246,441.9 246.5,443.9 247,440.6 247.5,442.1 248,442.3 248.5,444.5 249,443.4 249.5,440.8 250,443.4 250.5,443.4 251,441.7 251.5,441.4 252,441.6 252.5,438.9 253,442.6 253.5,442.8 254,440.9 254.5,443.8 255,439.9 255.5,441.3 256,441.3 256.5,445.7 257,439.0 257.5,442.8 258,443.4 258.5,442.2 259,443.7 259.5,439.7 260,437.5 260.5,443.2 261,439.5 261.5,441.0 262,439.3 262.5,443.3 263,443.0 263.5,440.3 264,443.5 264.5,442.3 265,441.9 265.5,442.3 266,441.7 266.5,443.2 267,442.7 267.5,441.6 268,444.1 268.5,441.2 269,442.9 269.5,443.1 270,445.0 270.5,441.3 271,445.4 271.5,442.5 272,441.7 272.5,440.8 273,443.0 273.5,441.8 274,439.5 274.5,439.2 275,440.0 275.5,439.7 276,443.0 276.5,443.6 277,442.8 277.5,442.1 278,440.8 278.5,441.9 279,443.6 279.5,446.0 280,443.9 280.5,441.8 281,442.2 281.5,440.9 282,439.9 282.5,440.7 283,441.1 283.5,444.1 284,441.0 284.5,443.7 285,444.7 285.5,441.7 286,444.6 286.5,442.9 287,440.7 287.5,441.9 288,441.4 288.5,440.9 289,440.8 289.5,441.3 290,441.8 290.5,439.4 291,441.2 291.5,438.6 292,442.1 292.5,442.9 293,442.0 293.5,442.2 294,442.6 294.5,440.2 295,441.0 295.5,442.5 296,443.5 296.5,442.6 297,446.6 297.5,441.7 298,443.6 298.5,443.9 299,441.1 299.5,439.6 300,438.6 300.5,440.8 301,442.4 301.5,440.7 302,440.5 302.5,439.4 303,440.9 303.5,435.7 304,439.8 304.5,439.2 305,436.4 305.5,442.8 306,436.2 306.5,436.7 307,436.7 307.5,441.2 308,437.7 308.5,440.7 309,440.5 309.5,439.7 310,436.4 310.5,437.1 311,440.7 311.5,434.6 312,434.9 312.5,435.6 313,437.0 313.5,435.6 314,436.1 314.5,432.3 315,435.5 315.5,434.1 316,429.2 316.5,433.8 317,433.7 317.5,426.5 318,426.2 318.5,426.6 319,419.0 319.5,415.4 320,413.7 320.5,411.7 321,408.1 321.5,406.4 322,401.6 322.5,394.2 323,392.7 323.5,389.9 324,383.4 324.5,378.0 325,371.5 325.5,369.1 326,362.2 326.5,363.1 327,360.4 327.5,362.7 328,362.8 328.5,362.5 329,368.2 329.5,374.3 330,374.8 330.5,380.8 331,385.6 331.5,389.4 332,398.8 332.5,404.1 333,407.5 333.5,410.4 334,413.3 334.5,417.0 335,418.0 335.5,423.5 336,426.1 336.5,427.9 337,427.0 337.5,429.7 338,430.5 338.5,435.1 339,433.1 339.5,430.2 340,435.3 340.5,438.8 341,437.4 341.5,438.4 342,437.4 342.5,434.2 343,434.7 343.5,436.0 344,438.2 344.5,439.3 345,440.3 345.5,438.7 346,441.5 346.5,439.5 347,438.9 347.5,441.9 348,438.8 348.5,435.5 349,438.6 349.5,440.7 350,434.9 350.5,439.7 351,439.6 351.5,437.5 352,437.4 352.5,439.3 353,439.3 353.5,442.8 354,441.5 354.5,438.1 355,439.6 355.5,442.5 356,444.8 356.5,442.0 357,441.9 357.5,444.7 358,441.2 358.5,440.6 359,438.7 359.5,440.4 360,445.5 360.5,439.2 361,442.1 361.5,439.7 362,442.6 362.5,443.9 363,441.8 363.5,443.4 364,443.3 364.5,442.8 365,445.1 365.5,443.6 366,441.8 366.5,441.3 367,441.1 367.5,443.6 368,442.0 368.5,447.5 369,445.9 369.5,442.1 370,441.9 370.5,445.5 371,438.8 371.5,441.3 372,443.8 372.5,440.3 373,441.1 373.5,441.4 374,443.3 374.5,442.4 375,442.9 375.5,443.2 376,442.0 376.5,443.9 377,440.4 377.5,439.0 378,438.4 378.5,438.7 379,440.7 379.5,443.7 380,442.2 380.5,440.9 381,440.1 381.5,441.2 382,441.5 382.5,441.3 383,439.7 383.5,441.5 384,444.2 384.5,438.4 385,442.0 385.5,438.6 386,442.8 386.5,441.1 387,438.7 387.5,442.6 388,445.7 388.5,442.3 389,444.0 389.5,441.5 390,437.5 390.5,442.2 391,440.4 391.5,438.5 392,442.5 392.5,441.6 393,440.2 393.5,442.9 394,440.0 394.5,443.0 395,440.3 395.5,443.0 396,439.9 396.5,444.2 397,441.6 397.5,443.3 398,438.8 398.5,439.1 399,441.2 399.5,434.4 400,437.1 400.5,440.5 401,439.0 401.5,439.5 402,436.6 402.5,437.7 403,434.8 403.5,432.9 404,431.3 404.5,432.2 405,430.8 405.5,429.0 406,421.9 406.5,422.7 407,423.2 407.5,422.1 408,417.7 408.5,414.0 409,408.1 409.5,412.5 410,403.2 410.5,404.6 411,400.7 411.5,394.7 412,389.7 412.5,387.7 413,382.4 413.5,382.5 414,380.1 414.5,379.8 415,380.0 415.5,381.6 416,378.7 416.5,382.9 417,381.8 417.5,384.2 418,387.6 418.5,390.1 419,397.0 419.5,400.4 420,404.6 420.5,405.8 421,409.9 421.5,411.8 422,414.0 422.5,419.9 423,422.4 423.5,422.3 424,427.6 424.5,425.2 425,429.6 425.5,430.2 426,431.7 426.5,431.9 427,436.7 427.5,437.1 428,439.1 428.5,437.9 429,436.0 429.5,438.1 430,437.0 430.5,440.0 431,441.4 431.5,439.7 432,437.9 432.5,438.3 433,439.4 433.5,436.3 434,439.1 434.5,438.9 435,437.1 435.5,436.9 436,437.6 436.5,435.3 437,434.8 437.5,437.2 438,435.8 438.5,438.0 439,432.7 439.5,430.9 440,435.5 440.5,435.3 441,432.0 441.5,430.5 442,433.1 442.5,430.1 443,432.7 443.5,429.5 444,433.2 444.5,430.1 445,433.8 445.5,437.3 446,434.4 446.5,436.5 447,434.2 447.5,434.1 448,433.3 448.5,438.2 449,436.6 449.5,440.0 450,435.2 450.5,437.2 451,437.9 451.5,440.4 452,441.1 452.5,436.6 453,435.8 453.5,434.8 454,440.5 454.5,438.1 455,437.2 455.5,438.3 456,433.8 456.5,435.4 457,440.2 457.5,439.3 458,438.9 458.5,436.8 459,439.7 459.5,441.9 460,436.7 460.5,439.2 461,438.8 461.5,440.6 462,440.4 462.5,440.4 463,439.3 463.5,441.0 464,440.1 464.5,440.9 465,441.1 465.5,442.3 466,440.0 466.5,440.4 467,442.9 467.5,440.6 468,440.5 468.5,442.7 469,441.8 469.5,441.7 470,442.2 470.5,439.6 471,442.8 471.5,444.3 472,442.9 472.5,439.0 473,442.2 473.5,439.9 474,441.0 474.5,441.5 475,439.1 475.5,443.6 476,441.1 476.5,442.7 477,442.4 477.5,443.8 478,443.6 478.5,439.0 479,442.1 479.5,438.4 480,441.7 480.5,444.0 481,444.3 481.5,444.9 482,441.7 482.5,442.7 483,442.1 483.5,444.1 484,444.6 484.5,441.2 485,448.7 485.5,441.9 486,441.3 486.5,443.1 487,443.4 487.5,443.0 488,440.8 488.5,444.6 489,441.9 489.5,444.4 490,444.0 490.5,439.1 491,439.6 491.5,439.6 492,442.0 492.5,441.8 493,442.4 493.5,440.6 494,443.0 494.5,444.9 495,440.0 495.5,442.1 496,442.8 496.5,442.1 497,441.8 497.5,445.2 498,444.3 498.5,443.6 499,440.8 499.5,446.4 500,443.1 500.5,441.4 501,441.8 501.5,441.5 502,446.2 502.5,442.8 503,442.6 503.5,438.7 504,444.1 504.5,441.0 505,440.9 505.5,444.1 506,441.4 506.5,444.3 507,444.5 507.5,439.0 508,441.8 508.5,439.2 509,442.1 509.5,444.1 510,440.3 510.5,446.2 511,442.3 511.5,440.6 512,442.1 512.5,443.5 513,439.4 513.5,441.8 514,439.5 514.5,444.4 515,442.9 515.5,442.0 516,444.7 516.5,440.4 517,441.8 517.5,445.5 518,441.6 518.5,444.1 519,441.9 519.5,440.2 520,441.0 520.5,441.6 521,440.7 521.5,440.0 522,440.1 522.5,438.8 523,441.7 523.5,442.1 524,442.7 524.5,438.1 525,442.8 525.5,441.4 526,438.9 526.5,441.7 527,443.0 527.5,442.6 528,443.1 528.5,443.6 529,443.5 529.5,441.8 530,438.0 530.5,440.3 531,442.2 531.5,440.7 532,442.8 532.5,443.0 533,441.6 533.5,444.8 534,439.6 534.5,442.9 535,440.2 535.5,439.4 536,441.5 536.5,438.9 537,441.2 537.5,437.1 538,438.9 538.5,436.9 539,437.5 539.5,436.7 540,434.9 540.5,437.7 541,434.0 541.5,434.3 542,437.3 542.5,437.0 543,435.9 543.5,434.8 544,437.8 544.5,431.2 545,431.8 545.5,431.1 546,434.4 546.5,433.1 547,434.5 547.5,434.3 548,432.3 548.5,431.4 549,431.3 549.5,437.3 550,435.3 550.5,435.0 551,433.7 551.5,434.5 552,434.8 552.5,435.4 553,432.3 553.5,437.1 554,437.1 554.5,438.8 555,439.1 555.5,440.6 556,439.3 556.5,441.0 557,435.1 557.5,437.9 558,443.0 558.5,437.8 559,439.6 559.5,441.3 560,438.5 560.5,441.4 561,437.6 561.5,436.9 562,438.1 562.5,437.8 563,441.1 563.5,440.9 564,442.5 564.5,440.3 565,446.9 565.5,442.2 566,442.3 566.5,443.2 567,442.0 567.5,441.4 568,442.8 568.5,444.3 569,443.7 569.5,444.0 570,441.0 570.5,440.4 571,445.2 571.5,441.1 572,442.5 572.5,443.0 573,444.4 573.5,439.7 574,441.5 574.5,441.7 575,441.9 575.5,438.0 576,441.9 576.5,436.8 577,442.4 577.5,442.8 578,443.1 578.5,440.0 579,444.1 579.5,441.0 580,440.5 580.5,440.9 581,441.1 581.5,442.7 582,443.7 582.5,438.4 583,441.2 583.5,443.8 584,442.6 584.5,443.2 585,439.7 585.5,444.1 586,439.7 586.5,442.8 587,445.0 587.5,446.0 588,443.7 588.5,444.6 589,442.2 589.5,442.6 590,445.5 590.5,443.3 591,442.8 591.5,440.3 592,442.8 592.5,443.5 593,440.8 593.5,441.3 594,445.0 594.5,442.6 595,441.9 595.5,440.6 596,441.7 596.5,442.6 597,445.7 597.5,442.3 598,446.7 598.5,441.9 599,443.0 599.5,445.1 600,443.2 600.5,442.1 601,443.3 601.5,444.2 602,440.3 602.5,442.9 603,443.1 603.5,442.6 604,444.5 604.5,442.1 605,442.2 605.5,442.6 606,443.5 606.5,441.4 607,444.2 607.5,439.7 608,443.5 608.5,439.6 609,440.8 609.5,441.5 610,444.2 610.5,441.6 611,438.5 611.5,440.7 612,437.0 612.5,434.9 613,435.9 613.5,434.0 614,434.1 614.5,430.1 615,430.3 615.5,429.4 616,427.5 616.5,425.8 617,423.9 617.5,426.3 618,425.0 618.5,426.1 619,425.2 619.5,426.6 620,425.5 620.5,428.2 621,430.1 621.5,429.5 622,431.2 622.5,430.4 623,432.2 623.5,429.3 624,426.5 624.5,430.1 625,429.3 625.5,428.4 626,432.1 626.5,432.4 627,433.8 627.5,433.6 628,435.6 628.5,436.8 629,440.6 629.5,437.1 630,439.2 630.5,440.6 631,437.5 631.5,438.2 632,445.2 632.5,438.3 633,442.5 633.5,440.0 634,440.0 634.5,437.7 635,439.5 635.5,442.2 636,437.9 636.5,441.0 637,440.0 637.5,442.5 638,437.6 638.5,440.0 639,438.6 639.5,435.5 640,432.0 640.5,436.5 641,430.3 641.5,430.9 642,432.6 642.5,432.5 643,428.9 643.5,430.5 644,430.6 644.5,433.8 645,437.1 645.5,430.5 646,436.5 646.5,431.0 647,437.3 647.5,436.4 648,442.9 648.5,440.6 649,439.8 649.5,441.0 650,441.4 650.5,443.2 651,443.0 651.5,444.6 652,446.3 652.5,445.0 653,441.7 653.5,441.1"/>
</g>
<line x1="136.5" y1="11" x2="136.5" y2="433" stroke="#000" stroke-width="1.2"/>
<rect x="54" y="5.5" width="600" height="463.5" fill="none" stroke="#000" stroke-width="2"/>
<g stroke="#000" stroke-width="2">
<line x1="54" y1="469" x2="54" y2="479"/>
<line x1="154" y1="469" x2="154" y2="479"/>
<line x1="254" y1="469" x2="254" y2="479"/>
<line x1="354" y1="469" x2="354" y2="479"/>
<line x1="454" y1="469" x2="454" y2="479"/>
<line x1="554" y1="469" x2="554" y2="479"/>
<line x1="654" y1="469" x2="654" y2="479"/>
<line x1="104" y1="469" x2="104" y2="475"/>
<line x1="204" y1="469" x2="204" y2="475"/>
<line x1="304" y1="469" x2="304" y2="475"/>
<line x1="404" y1="469" x2="404" y2="475"/>
<line x1="504" y1="469" x2="504" y2="475"/>
<line x1="604" y1="469" x2="604" y2="475"/>
</g>
<g font-size="27.8" text-anchor="middle">
<text transform="translate(54,506) scale(0.97,1.045)">20</text>
<text transform="translate(154,506) scale(0.97,1.045)">30</text>
<text transform="translate(254,506) scale(0.97,1.045)">40</text>
<text transform="translate(354,506) scale(0.97,1.045)">50</text>
<text transform="translate(454,506) scale(0.97,1.045)">60</text>
<text transform="translate(554,506) scale(0.97,1.045)">70</text>
<text transform="translate(654,506) scale(0.97,1.045)">80</text>
</g>
<text transform="translate(345.5,541) scale(1,0.955)" font-size="36" text-anchor="middle">2 theta (<tspan font-size="20" dy="-12">o</tspan><tspan dy="12">)</tspan></text>
<text transform="translate(27.4,259.5) rotate(-90) scale(1,0.975)" font-size="36" text-anchor="middle">Intensity (a.u.)</text>
<g font-size="34.7">
<text x="73.7" y="115">c</text>
<text x="76.3" y="260.3">b</text>
<text x="77.5" y="415">a</text>
</g>
</svg>
</body></html>
